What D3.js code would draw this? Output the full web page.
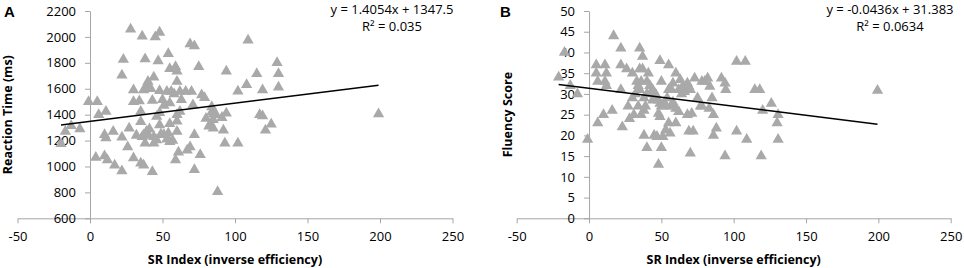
<!DOCTYPE html>
<html>
<head>
<meta charset="utf-8">
<script src="https://cdn.jsdelivr.net/npm/d3@7"></script>
<style>
body { margin: 0; background: #fff; }
svg text { font-family: "Open Sans", sans-serif; fill: #000; }
</style>
</head>
<body>
<svg id="chart" width="964" height="268"></svg>
<script>
// values
const xTicks = [-50, 0, 50, 100, 150, 200, 250]
const rtTicks = [600, 800, 1000, 1200, 1400, 1600, 1800, 2000, 2200]
const fluencyTicks = [0, 5, 10, 15, 20, 25, 30, 35, 40, 45, 50]

const srIndexA = [28, 36, 45, 48, 109, 69, 72, 54, 23, 38, 47, 129, 55, 59, 60, 75, 94, 115, 22, 130,
  44, 40, 39, 37, 30, 60, 108, 130, 48, 53, 56, 62, 66, 70, 77, 79, 102, 119, 42, 58,
  -1, 5, 30, 34, 43, 50, 51, 63, 71, 84, 55, 6, 11, 35, 48, 62, 60, 85, 91, 94,
  117, 119, 199, 87, 84, -20, -17, -13, -7, 10, 11, 16, 4, 10, 12, 17, 22, 26, 22, 27,
  30, 32, 35, 35, 37, 38, 39, 40, 36, 43, 46, 48, 46, 44, 51, 53, 55, 59, 61, 55,
  60, 60, 67, 69, 72, 72, 76, 80, 85, 83, 85, 88, 92, 93, 102, 121, 125, 41, 49, 57, 82, 54, 37, 44]
const reactionTime = [2060, 2005, 2000, 2035, 1975, 1945, 1930, 1870, 1825, 1830, 1815, 1800, 1755, 1770, 1735, 1770, 1735, 1715, 1705, 1715,
  1688, 1655, 1621, 1590, 1590, 1655, 1630, 1612, 1585, 1578, 1578, 1578, 1578, 1578, 1552, 1530, 1580, 1590, 1600, 1560,
  1500, 1500, 1500, 1505, 1510, 1515, 1470, 1515, 1475, 1460, 1490, 1400, 1425, 1425, 1415, 1425, 1400, 1405, 1377, 1410,
  1400, 1390, 1405, 1400, 1420, 1175, 1270, 1315, 1290, 1245, 1220, 1270, 1070, 1080, 1050, 1010, 965, 1150, 1225, 1295,
  1065, 1240, 1345, 1025, 1010, 1180, 1270, 1240, 1230, 960, 1385, 1320, 1205, 1180, 1245, 1210, 1190, 1050, 1110, 1330,
  1350, 1270, 1125, 1150, 1245, 975, 1090, 1370, 1360, 1330, 1295, 805, 1280, 1180, 1180, 1280, 1325, 1290, 1250, 1200, 1310, 1256, 1243, 1230]

const srIndexB = [17, 22, 35, 37, -17, -21, -13, -8, -1, 5, 11, 5, 6, 12, 11, 12, 6, 10, 16, 22,
  22, 23, 26, 27, 28, 31, 30, 32, 30, 33, 34, 35, 35, 37, 34, 36, 38, 39, 38, 40,
  40, 41, 42, 43, 44, 45, 45, 47, 48, 49, 48, 49, 50, 48, 49, 50, 51, 50, 53, 55,
  56, 55, 55, 57, 58, 60, 53, 57, 60, 62, 60, 63, 65, 68, 66, 69, 70, 68, 71, 69,
  72, 70, 73, 75, 77, 78, 78, 80, 82, 83.5, 83, 85, 86, 86, 88, 91.5, 94, 94.5, 94, 102,
  108, 102, 109, 114.6, 118, 119, 120, 126, 130.7, 130, 130.7, 199.4, 44, 46, 52, 54, 58, 62, 64, 40, 36, 38]
const fluencyScore = [44, 41, 41, 39, 40, 34, 32, 30, 19, 37, 37, 35, 33, 35, 33, 32, 23, 25, 26, 37,
  31, 22, 36, 27, 24, 25, 35, 30, 29, 33, 32, 31, 36, 36, 27, 25, 26, 27, 20, 17,
  33, 35, 32, 30.5, 28.5, 29, 20, 19.7, 13, 38, 28.5, 27.7, 27, 25.3, 24.5, 33, 19.7, 17, 21.3, 23,
  20.5, 37, 31, 31, 32.6, 35, 27, 27, 26.5, 25.7, 23, 33.4, 32, 32.6, 30.5, 31.8, 31, 25, 25.3, 21,
  21, 15.7, 33.8, 29, 27, 27, 33, 33, 33.8, 31.8, 26.5, 29, 20, 25, 21.7, 33.8, 32.6, 31, 15, 37.8,
  37.8, 21, 19, 31, 31, 15, 26, 27.7, 25, 23, 19, 30.8, 31, 30, 28, 29, 28, 31, 30, 30, 33, 29]

const panelLetters = ['A', 'B']
const yTitles = ['Reaction Time (ms)', 'Fluency Score']
const xTitle = 'SR Index (inverse efficiency)'
const slopes = [1.4054, -0.0436]
const intercepts = [1347.5, 31.383]
const equations = [['y = 1.4054x + 1347.5', 'R² = 0.035'], ['y = -0.0436x + 31.383', 'R² = 0.0634']]

const svg = d3.select('#chart')
const axisColor = '#a6a6a6'
const markerColor = '#a9a9a9'

function drawPanel(i, xs, ys, yTicks, left, right) {
  const top = 11, bottom = 218.3
  const g = svg.append('g')

  const xScale = d3.scaleLinear().domain([-50, 250]).range([left, right])
  const yScale = d3.scaleLinear().domain([yTicks[0], yTicks[yTicks.length - 1]]).range([bottom, top])

  // plain hyphen and no thousands separator, like the original
  const plain = d => String(d)
  const xAxis = d3.axisBottom(xScale).tickValues(xTicks).tickFormat(plain)
    .tickSize(5).tickSizeOuter(0).tickPadding(8)
  const yAxis = d3.axisLeft(yScale).tickValues(yTicks).tickFormat(plain)
    .tickSize(5).tickSizeOuter(0).tickPadding(9)

  g.append('g')
    .attr('class', 'axis')
    .attr('transform', 'translate(0,' + bottom + ')')
    .call(xAxis)

  g.append('g')
    .attr('class', 'axis')
    .attr('transform', 'translate(' + xScale(0) + ',0)')
    .call(yAxis)

  g.selectAll('.axis path, .axis line').attr('stroke', axisColor)
  g.selectAll('.axis text')
    .style('font-size', '13px')
    .style('font-family', '"Open Sans", sans-serif')
    .attr('fill', '#000')

  // points
  const tri = d3.symbol().type(d3.symbolTriangle).size(55)
  g.append('g').selectAll('path')
    .data(xs.map((x, k) => ({ x: x, y: ys[k] })))
    .join('path')
    .attr('d', tri)
    .attr('transform', d => 'translate(' + xScale(d.x) + ',' + yScale(d.y) + ')')
    .attr('fill', markerColor)

  // linear trend line over the data range
  const ext = d3.extent(xs)
  const line = d3.line().x(d => xScale(d)).y(d => yScale(slopes[i] * d + intercepts[i]))
  g.append('path')
    .datum(ext)
    .attr('d', line)
    .attr('fill', 'none')
    .attr('stroke', '#000')
    .attr('stroke-width', 1.5)

  const eqX = i == 0 ? 392 : 890
  g.selectAll('.eq')
    .data(equations[i])
    .join('text')
    .attr('class', 'eq')
    .attr('x', eqX)
    .attr('y', (d, k) => 14 + k * 17)
    .style('font-size', '13px')
    .style('text-anchor', 'middle')
    .text(d => d)

  g.append('text')
    .attr('x', (left + right) / 2)
    .attr('y', 264)
    .style('font-size', '12.5px')
    .style('font-weight', 'bold')
    .style('text-anchor', 'middle')
    .text(xTitle)

  g.append('text')
    .attr('transform', 'translate(' + (i == 0 ? 12 : 512) + ',' + (top + bottom) / 2 + ') rotate(-90)')
    .style('font-size', '12.5px')
    .style('font-weight', 'bold')
    .style('text-anchor', 'middle')
    .text(yTitles[i])

  g.append('text')
    .attr('x', i == 0 ? 4 : 500)
    .attr('y', 17)
    .style('font-size', '15px')
    .style('font-weight', 'bold')
    .style('font-family', '"Liberation Sans", Arial, sans-serif')
    .text(panelLetters[i])
}

drawPanel(0, srIndexA, reactionTime, rtTicks, 17.5, 452.5)
drawPanel(1, srIndexB, fluencyScore, fluencyTicks, 516.7, 950.7)
</script>
</body>
</html>
